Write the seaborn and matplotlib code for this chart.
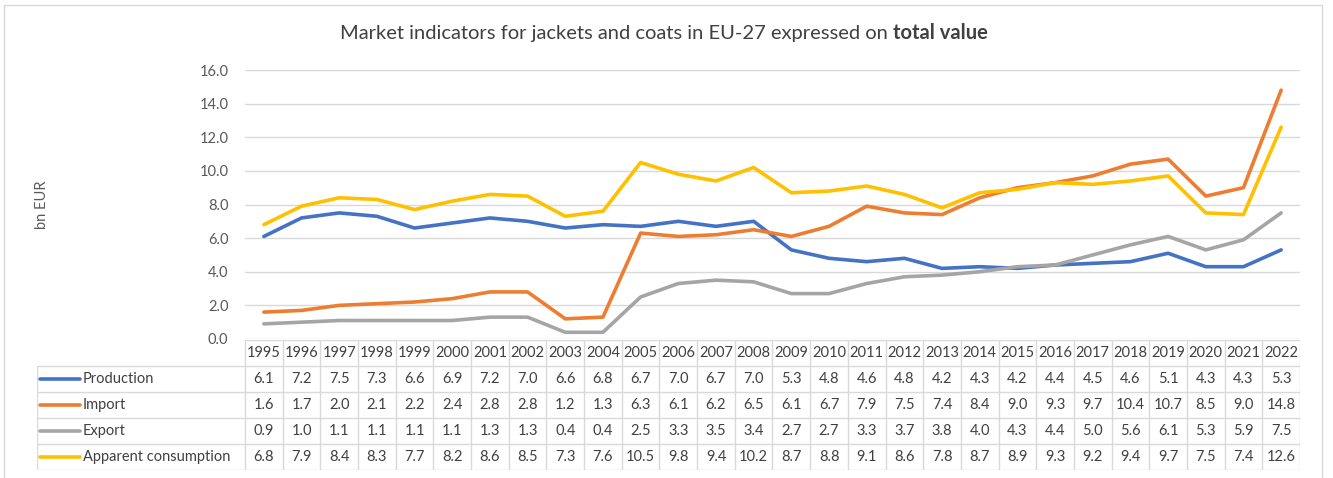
import numpy as np
import pandas as pd
import matplotlib
matplotlib.use("Agg")
import matplotlib.pyplot as plt
import seaborn as sns
from matplotlib.patches import Rectangle

years = list(range(1995, 2023))
production = [6.1, 7.2, 7.5, 7.3, 6.6, 6.9, 7.2, 7.0, 6.6, 6.8, 6.7, 7.0, 6.7, 7.0,
              5.3, 4.8, 4.6, 4.8, 4.2, 4.3, 4.2, 4.4, 4.5, 4.6, 5.1, 4.3, 4.3, 5.3]
imports = [1.6, 1.7, 2.0, 2.1, 2.2, 2.4, 2.8, 2.8, 1.2, 1.3, 6.3, 6.1, 6.2, 6.5,
           6.1, 6.7, 7.9, 7.5, 7.4, 8.4, 9.0, 9.3, 9.7, 10.4, 10.7, 8.5, 9.0, 14.8]
exports = [0.9, 1.0, 1.1, 1.1, 1.1, 1.1, 1.3, 1.3, 0.4, 0.4, 2.5, 3.3, 3.5, 3.4,
           2.7, 2.7, 3.3, 3.7, 3.8, 4.0, 4.3, 4.4, 5.0, 5.6, 6.1, 5.3, 5.9, 7.5]
consumption = [6.8, 7.9, 8.4, 8.3, 7.7, 8.2, 8.6, 8.5, 7.3, 7.6, 10.5, 9.8, 9.4, 10.2,
               8.7, 8.8, 9.1, 8.6, 7.8, 8.7, 8.9, 9.3, 9.2, 9.4, 9.7, 7.5, 7.4, 12.6]

series_names = ["Production", "Import", "Export", "Apparent consumption"]
series_vals = [production, imports, exports, consumption]
colors = ["#4472C4", "#ED7D31", "#A5A5A5", "#FFC000"]

sns.set_style("white")
plt.rcParams['font.family'] = ['Lato', 'DejaVu Sans']

W, H = 1333, 478
fig = plt.figure(figsize=(W / 100, H / 100), dpi=100)

def frac(x0, y0, x1, y1):
    # pixel box (top-left origin) -> figure fraction
    return [x0 / W, 1 - y1 / H, (x1 - x0) / W, (y1 - y0) / H]

# outer frame
fig.patches.append(Rectangle((4 / W, -0.05), 1318 / W, 1 - 5 / H + 0.05,
                             transform=fig.transFigure, fill=False,
                             edgecolor="#D9D9D9", linewidth=1))

# line chart
ax = fig.add_axes(frac(245, 70, 1300, 339))
df = pd.DataFrame({"idx": np.tile(np.arange(len(years)), 4),
                   "value": np.concatenate(series_vals),
                   "series": np.repeat(series_names, len(years))})
sns.lineplot(data=df, x="idx", y="value", hue="series", hue_order=series_names,
             palette=colors, linewidth=2.6, legend=False, ax=ax)
ax.set_xlim(-0.5, len(years) - 0.5)
ax.set_ylim(0, 16)
ax.set_yticks(np.arange(0, 16.1, 2))
ax.set_yticklabels([f"{v:.1f}" for v in np.arange(0, 16.1, 2)], color="#595959", fontsize=10.5)
ax.set_xticks([])
ax.set_xlabel("")
ax.set_ylabel("")
ax.tick_params(axis="y", length=0, pad=12)
ax.grid(axis="y", color="#D9D9D9", linewidth=1)
ax.set_axisbelow(True)
for s in ["top", "right", "left", "bottom"]:
    ax.spines[s].set_visible(False)

fig.text(42 / W, 1 - 205 / H, "bn EUR", rotation=90, ha="center", va="center",
         fontsize=10.5, color="#595959")

# title with bold part
t1 = fig.text(0, 1 - 33 / H, "Market indicators for jackets and coats in EU-27 expressed on ",
              fontsize=14.5, color="#404040", va="center", ha="left")
t2 = fig.text(0, 1 - 33 / H, "total value", fontsize=14.5, color="#404040",
              va="center", ha="left", fontweight="bold")
fig.canvas.draw()
r = fig.canvas.get_renderer()
w1 = t1.get_window_extent(r).width
w2 = t2.get_window_extent(r).width
start = 664 - (w1 + w2) / 2
t1.set_x(start / W)
t2.set_x((start + w1) / W)

# data table
n = len(years)
colw = 1055 / n
label_w = 208 / colw
tax = fig.add_axes(frac(37, 340, 1300, 470))
tax.set_xlim(-0.5 - label_w, n - 0.5)
tax.set_ylim(5, 0)
tax.axis("off")
lc = "#D9D9D9"
tax.plot([-0.5, n - 0.5], [0, 0], color=lc, lw=1)
for k in range(1, 6):
    tax.plot([-0.5 - label_w, n - 0.5], [k, k], color=lc, lw=1)
for i in range(n + 1):
    tax.plot([i - 0.5, i - 0.5], [0, 5], color=lc, lw=1)
tax.plot([-0.5 - label_w, -0.5 - label_w], [1, 5], color=lc, lw=1)
for i, yr in enumerate(years):
    tax.text(i, 0.5, str(yr), ha="center", va="center", fontsize=10.5, color="#404040")
x0 = -0.5 - label_w
for k, (name, vals, c) in enumerate(zip(series_names, series_vals, colors)):
    yy = k + 1.5
    tax.plot([x0 + 3 / colw, x0 + 43 / colw], [yy, yy], color=c, lw=2.6, solid_capstyle="round")
    tax.text(x0 + 46 / colw, yy, name, ha="left", va="center", fontsize=10.5, color="#404040")
    for i, v in enumerate(vals):
        tax.text(i, yy, f"{v:.1f}", ha="center", va="center", fontsize=10.5, color="#404040")

fig.savefig("out.png", dpi=100)
